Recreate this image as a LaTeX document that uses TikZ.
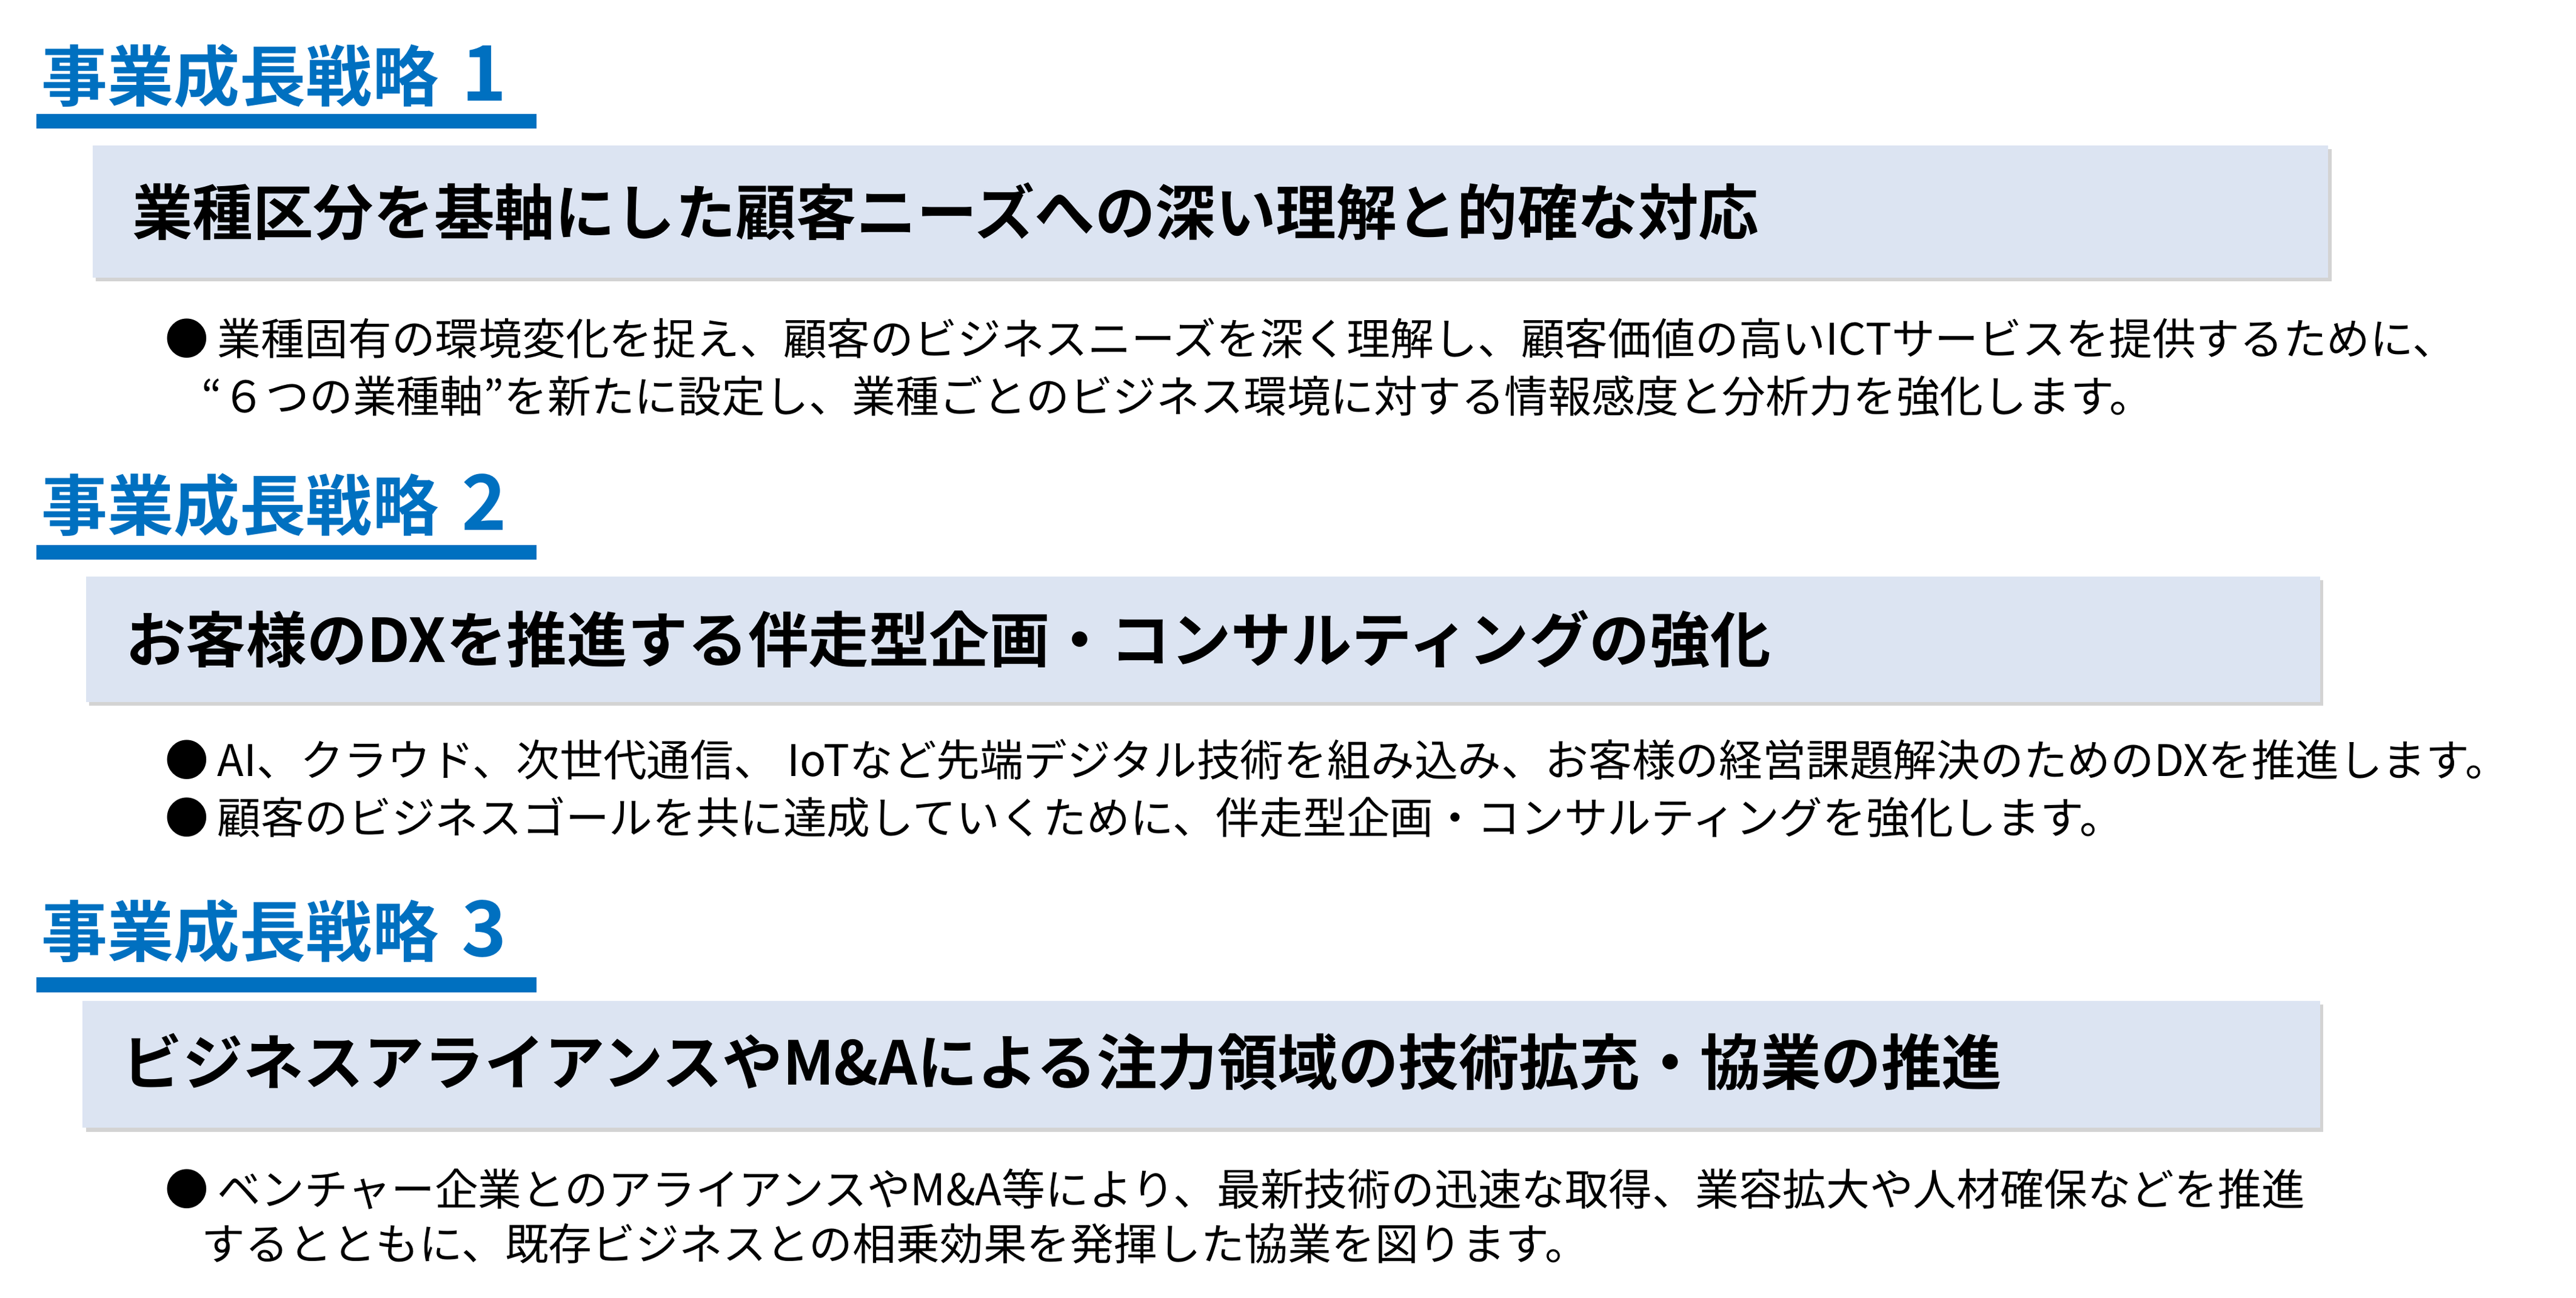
\documentclass[tikz,border=0pt]{standalone}
\usepackage{fontspec}
\setmainfont{Noto Sans CJK JP}
\newfontfamily\jpb{Noto Sans CJK JP Bold}
\usetikzlibrary{shadows}
\definecolor{hblue}{HTML}{0070C0}
\definecolor{boxfill}{HTML}{DCE4F2}
\tikzset{
 head/.style={anchor=west,inner sep=0,text=hblue,font=\jpb\fontsize{57}{57}\selectfont},
 hbar/.style={fill=hblue,draw=none},
 tbox/.style={fill=boxfill,draw=none,drop shadow={shadow xshift=1mm,shadow yshift=-1.2mm,opacity=.35}},
 ttl/.style={anchor=west,inner sep=0,font=\jpb\fontsize{52}{52}\selectfont},
 bul/.style={anchor=west,inner sep=0,font=\fontsize{37.5}{37.5}\selectfont},
}
\begin{document}
\begin{tikzpicture}[x=0.05cm,y=-0.05cm]
\useasboundingbox (0,0) rectangle (1560,786);
% section 1
\node[head] (h1) at (25,46) {事業成長戦略\hspace{0.35em}{\fontsize{66}{66}\selectfont 1}};
\fill[hbar] (22,69) rectangle (325,78);
\path[tbox] (56,88) rectangle (1410,168);
\node[ttl] (t1) at (80,128) {業種区分を基軸にした顧客ニーズへの深い理解と的確な対応};
\node[bul] (b1) at (100,205) {●\hspace{0.2em}業種固有の環境変化を捉え、顧客のビジネスニーズを深く理解し、顧客価値の高いICTサービスを提供するために、};
\node[bul] (b2) at (122,240) {“６つの業種軸”を新たに設定し、業種ごとのビジネス環境に対する情報感度と分析力を強化します。};
% section 2
\node[head] (h2) at (25,306) {事業成長戦略\hspace{0.35em}{\fontsize{66}{66}\selectfont 2}};
\fill[hbar] (22,330) rectangle (325,339);
\path[tbox] (52,349) rectangle (1405,425);
\node[ttl] (t2) at (76,387) {お客様のDXを推進する伴走型企画・コンサルティングの強化};
\node[bul] (b3) at (100,460) {●\hspace{0.2em}AI、クラウド、次世代通信、 IoTなど先端デジタル技術を組み込み、お客様の経営課題解決のためのDXを推進します。};
\node[bul] (b4) at (100,495) {●\hspace{0.2em}顧客のビジネスゴールを共に達成していくために、伴走型企画・コンサルティングを強化します。};
% section 3
\node[head] (h3) at (25,564) {事業成長戦略\hspace{0.35em}{\fontsize{66}{66}\selectfont 3}};
\fill[hbar] (22,592) rectangle (325,601);
\path[tbox] (50,606) rectangle (1405,683);
\node[ttl] (t3) at (74,643) {ビジネスアライアンスやM\&Aによる注力領域の技術拡充・協業の推進};
\node[bul] (b5) at (100,720) {●\hspace{0.2em}ベンチャー企業とのアライアンスやM\&A等により、最新技術の迅速な取得、業容拡大や人材確保などを推進};
\node[bul] (b6) at (122,753) {するとともに、既存ビジネスとの相乗効果を発揮した協業を図ります。};
\end{tikzpicture}
\end{document}
